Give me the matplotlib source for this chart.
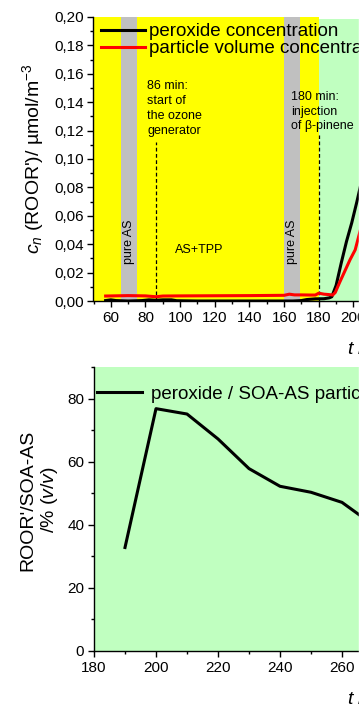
import matplotlib
matplotlib.use("Agg")
from matplotlib import pyplot as plt
from matplotlib.ticker import MultipleLocator, FuncFormatter
from matplotlib.patches import Rectangle

plt.rcParams['font.family'] = ['Liberation Sans', 'DejaVu Sans']
plt.rcParams['mathtext.fontset'] = 'custom'
plt.rcParams['mathtext.rm'] = 'Liberation Sans'
plt.rcParams['mathtext.it'] = 'Liberation Sans:italic'

# top panel: concentrations vs time (min)
t_perox = [57, 60, 63, 70, 78, 82, 86, 90, 95, 98, 110, 140, 165, 170, 173,
           178, 183, 186, 187.5, 190, 193, 196, 199, 202, 205, 208]
c_perox = [0.0003, 0.0008, 0.0003, 0.0, 0.0003, 0.0008, 0.0005, 0.0008, 0.0008,
           0.0002, 0.0, 0.0, 0.0, 0.0003, 0.0010, 0.0015, 0.0016, 0.0022, 0.003,
           0.011, 0.027, 0.042, 0.055, 0.070, 0.086, 0.100]
t_part = [57, 70, 80, 86, 90, 100, 120, 140, 160, 163, 166, 170, 175, 178, 180,
          183, 186, 188, 189.5, 192, 195, 198, 201, 204, 207]
c_part = [0.0035, 0.0038, 0.0036, 0.0030, 0.0035, 0.0036, 0.0037, 0.0038, 0.0040,
          0.0048, 0.0043, 0.0043, 0.0042, 0.0042, 0.0055, 0.0048, 0.0045, 0.0042,
          0.006, 0.013, 0.021, 0.029, 0.036, 0.050, 0.062]

pure_as = [(66, 75), (160, 169)]
t_ozone = 86
t_pinene = 180

# bottom panel: peroxide / SOA-AS ratio
t_ratio = [190, 200, 210, 220, 230, 240, 250, 260, 270]
ratio = [32.8, 76.8, 75.1, 67.2, 57.8, 52.2, 50.3, 47.1, 40.0]

W, H = 364, 707
fig = plt.figure(figsize=(W / 100, H / 100), dpi=100)

ax1 = fig.add_axes([93.5 / W, (H - 301) / H, 552 / W, 284 / H])
ax2 = fig.add_axes([94 / W, (H - 651) / H, 552 / W, 284 / H])

# ---- top
ax1.set_xlim(50, 50 + 552 / 1.733)
ax1.set_ylim(0, 0.2)
ax1.axvspan(50, t_pinene, color='#ffff00', lw=0, zorder=0)
ax1.axvspan(t_pinene, 400, ymax=0.993, color='#c0ffc0', lw=0, zorder=0)
for a, b in pure_as:
    ax1.axvspan(a, b, color='#c0c0c0', lw=0, zorder=0.5)
    ax1.text((a + b) / 2, 0.042, 'pure AS', rotation=90, ha='center',
             va='center', fontsize=9)
ax1.text(111, 0.036, 'AS+TPP', ha='center', va='center', fontsize=9)

ax1.plot([t_ozone, t_ozone], [0, 0.112], 'k--', lw=0.9, dashes=(3, 2))
ax1.plot([t_pinene, t_pinene], [0, 0.117], 'k--', lw=0.9, dashes=(3, 2))
ax1.text(81, 0.1555, '86 min:\nstart of\nthe ozone\ngenerator', ha='left',
         va='top', fontsize=9, linespacing=1.33)
ax1.text(164, 0.148, '180 min:\ninjection\nof β-pinene', ha='left',
         va='top', fontsize=9, linespacing=1.3)

ax1.plot(t_perox, c_perox, color='black', lw=2.2, label='peroxide concentration')
ax1.plot(t_part, c_part, color='red', lw=2.2,
         label='particle volume concentration')
ax1.legend(loc='upper left', bbox_to_anchor=(7.5 / 552, 0.979), frameon=False,
           fontsize=13.5, handlelength=2.35, handletextpad=0.2, borderpad=0,
           borderaxespad=0, labelspacing=0.0)

ax1.xaxis.set_major_locator(MultipleLocator(20))
ax1.xaxis.set_minor_locator(MultipleLocator(10))
ax1.yaxis.set_major_locator(MultipleLocator(0.02))
ax1.yaxis.set_minor_locator(MultipleLocator(0.01))
ax1.yaxis.set_major_formatter(FuncFormatter(lambda v, p: f"{v:.2f}".replace('.', ',')))
ax1.set_ylabel(r"$c_n$ (ROOR')/ µmol/m$^{-3}$", fontsize=14, va='center')
ax1.yaxis.set_label_coords((33 - 93.5) / 552, 0.5)
ax1.set_xlabel(r"$t$ / min", fontsize=14, va='center')
ax1.xaxis.set_label_coords(0.508, -0.1725)

# ---- bottom
ax2.set_xlim(180, 180 + 552 / 3.1)
ax2.set_ylim(0, 90)
ax2.set_facecolor('#c0ffc0')
ax2.plot(t_ratio, ratio, color='black', lw=2.2, label='peroxide / SOA-AS particles')
ax2.legend(loc='upper left', bbox_to_anchor=(3 / 552, 0.935), frameon=False,
           fontsize=13.5, handlelength=2.4, handletextpad=0.5, borderpad=0,
           borderaxespad=0)
ax2.xaxis.set_major_locator(MultipleLocator(20))
ax2.xaxis.set_minor_locator(MultipleLocator(10))
ax2.yaxis.set_major_locator(MultipleLocator(20))
ax2.yaxis.set_minor_locator(MultipleLocator(10))
ax2.set_ylabel("ROOR'/SOA-AS\n/% ($v$/$v$)", fontsize=14, va='center',
               linespacing=1.15)
ax2.yaxis.set_label_coords((39.5 - 94) / 552, 0.532)
ax2.set_xlabel(r"$t$ / min", fontsize=14, va='center')
ax2.xaxis.set_label_coords(0.507, -0.1725)

for ax in (ax1, ax2):
    for s in ('top', 'right'):
        ax.spines[s].set_visible(False)
    for s in ('left', 'bottom'):
        ax.spines[s].set_linewidth(1.0)
    ax.tick_params(which='major', direction='out', length=4, width=1,
                   labelsize=11, pad=3)
    ax.tick_params(which='minor', direction='out', length=2.5, width=1)

# white margin on the right like the cropped original
fig.add_artist(Rectangle((359 / W, 0), 5 / W, 1, transform=fig.transFigure,
                         color='white', zorder=10))

fig.savefig('out.png', dpi=100)
